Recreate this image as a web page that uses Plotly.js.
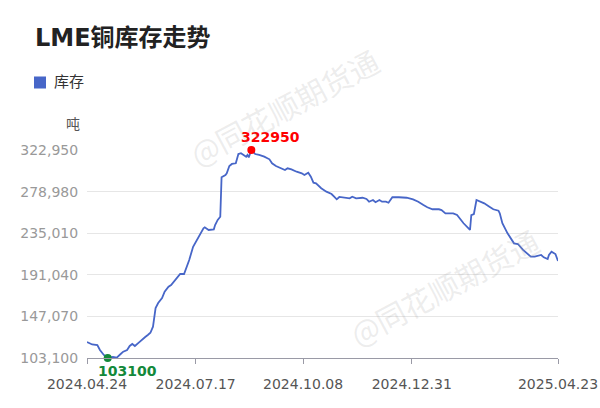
<!DOCTYPE html>
<html>
<head>
<meta charset="utf-8">
<script src="https://cdn.plot.ly/plotly-3.0.1.min.js"></script>
<style>
html,body{margin:0;padding:0;background:#fff;}
#chart{width:600px;height:408px;}
</style>
</head>
<body>
<div id="chart"></div>
<script>
const dates = [
 '2024-04-24','2024-04-28','2024-05-02','2024-05-04','2024-05-07','2024-05-10','2024-05-14','2024-05-17','2024-05-20','2024-05-22',
 '2024-05-25','2024-05-27','2024-05-29','2024-05-31','2024-06-03','2024-06-05','2024-06-08','2024-06-10','2024-06-12','2024-06-14',
 '2024-06-16','2024-06-18','2024-06-21','2024-06-23','2024-06-26','2024-06-28','2024-07-01','2024-07-03','2024-07-05','2024-07-08',
 '2024-07-10','2024-07-12','2024-07-15','2024-07-18','2024-07-20','2024-07-23','2024-07-24','2024-07-27','2024-07-31','2024-08-01',
 '2024-08-03','2024-08-05','2024-08-06','2024-08-09','2024-08-10','2024-08-12','2024-08-14','2024-08-17','2024-08-19','2024-08-21',
 '2024-08-23','2024-08-25','2024-08-26','2024-08-27','2024-08-29','2024-09-01','2024-09-04','2024-09-08','2024-09-12','2024-09-14',
 '2024-09-17','2024-09-21','2024-09-24','2024-09-26','2024-09-29','2024-10-03','2024-10-07','2024-10-09','2024-10-12','2024-10-14',
 '2024-10-16','2024-10-18','2024-10-22','2024-10-26','2024-10-30','2024-11-01','2024-11-03','2024-11-05','2024-11-09','2024-11-13',
 '2024-11-15','2024-11-18','2024-11-23','2024-11-26','2024-11-28','2024-12-01','2024-12-03','2024-12-06','2024-12-08','2024-12-11',
 '2024-12-13','2024-12-16','2024-12-21','2024-12-27','2025-01-01','2025-01-05','2025-01-09','2025-01-12','2025-01-16','2025-01-21',
 '2025-01-23','2025-01-26','2025-02-01','2025-02-04','2025-02-09','2025-02-14','2025-02-15','2025-02-17','2025-02-19','2025-02-23',
 '2025-02-25','2025-03-01','2025-03-04','2025-03-08','2025-03-09','2025-03-11','2025-03-15','2025-03-20','2025-03-23','2025-03-27',
 '2025-03-31','2025-04-02','2025-04-05','2025-04-07','2025-04-10','2025-04-12','2025-04-15','2025-04-16','2025-04-18','2025-04-21',
 '2025-04-23'
];
const stock = [
 120000,117400,116800,111600,106300,103100,104200,103500,107300,109800,
 111600,115800,117900,115800,119300,122100,125300,127400,129800,136200,
 155900,161200,166500,173200,178500,180300,185500,189000,191900,191900,
 199600,206700,220700,227800,233800,240200,241200,238400,239100,243700,
 249000,252400,294100,296500,298300,306000,308200,308900,318700,319500,
 317700,315900,317700,315200,322950,318700,317700,315900,313100,308900,
 306000,303600,301800,303600,302500,300000,298300,296500,299000,294700,
 288400,287700,282500,278900,276400,273600,270800,273300,272500,271900,
 273600,271900,272500,271200,268300,270100,267700,270100,268300,268300,
 267200,273000,273000,272500,270800,268300,264800,262400,260300,260300,
 259500,256000,256000,254200,245500,238400,254200,255300,270100,268300,
 266600,263000,260300,258800,256000,245500,234900,224300,223600,217300,
 212000,210200,210200,210900,212000,209500,207700,212000,215500,213000,
 205600
];
const seriesName = '库存';
const unitLabel = '吨';
const titleText = 'LME铜库存走势';
const xTickVals = ['2024-04-24','2024-07-17','2024-10-08','2024-12-31','2025-04-23'];
const xTickText = ['2024.04.24','2024.07.17','2024.10.08','2024.12.31','2025.04.23'];
const yTickText = ['103,100','147,070','191,040','235,010','278,980','322,950'];
const watermark = '@同花顺期货通';

const yTickVals = yTickText.map(s => Number(s.replace(/,/g,'')));
let iMax = 0, iMin = 0;
stock.forEach((v,i)=>{ if(v>stock[iMax]) iMax=i; if(v<stock[iMin]) iMin=i; });

const FONT = '"DejaVu Sans", "Noto Sans CJK SC", sans-serif';
const LINE = '#4766c8';
const RED = '#ff0000';
const GREEN = '#13893a';

const traces = [
 {x: dates, y: stock, type:'scatter', mode:'lines', name: seriesName,
  line:{color:LINE, width:1.8}, cliponaxis:false, hoverinfo:'x+y', showlegend:false},
 {x:[dates[iMax]], y:[stock[iMax]], type:'scatter', mode:'markers',
  marker:{color:RED, size:8}, cliponaxis:false, showlegend:false},
 {x:[dates[iMin]], y:[stock[iMin]], type:'scatter', mode:'markers',
  marker:{color:GREEN, size:8}, cliponaxis:false, showlegend:false}
];

const layout = {
 width:600, height:408,
 margin:{l:87, r:42, t:150, b:50},
 paper_bgcolor:'#fff', plot_bgcolor:'#fff',
 font:{family:FONT},
 showlegend:false,
 title:{text:'<b>'+titleText+'</b>', x:35/600, xanchor:'left', xref:'container',
        y:1-38/408, yanchor:'middle', yref:'container',
        font:{size:24, color:'#222', family:FONT}},
 xaxis:{type:'date', range:[xTickVals[0], xTickVals[xTickVals.length-1]],
        tickmode:'array', tickvals:xTickVals, ticktext:xTickText,
        showgrid:false, zeroline:false, showline:true, linecolor:'#9a9aa6', linewidth:1,
        ticks:'outside', ticklen:5, tickcolor:'#9a9aa6', ticklabelstandoff:8,
        tickfont:{size:14, color:'#555', family:FONT}, fixedrange:true},
 yaxis:{range:[yTickVals[0], yTickVals[yTickVals.length-1]],
        tickmode:'array', tickvals:yTickVals, ticktext:yTickText,
        showgrid:true, gridcolor:'#e6e6e6', gridwidth:1, zeroline:false, showline:false,
        ticks:'outside', ticklen:5, tickcolor:'rgba(0,0,0,0)',
        tickfont:{size:14, color:'#999', family:FONT}, fixedrange:true},
 shapes:[
  {type:'rect', xref:'paper', yref:'paper', x0:(35-87)/471, x1:(45-87)/471,
   y0:(358-87.5)/208, y1:(358-77.5)/208, fillcolor:LINE,
   line:{color:LINE, width:2}}
 ],
 annotations:[
  {text:seriesName, xref:'paper', yref:'paper', x:(52-87)/471, y:(358-82)/208,
   xanchor:'left', yanchor:'middle', showarrow:false, font:{size:15, color:'#333', family:FONT}},
  {text:unitLabel, xref:'paper', yref:'paper', x:(73-87)/471, y:(358-124)/208,
   xanchor:'center', yanchor:'middle', showarrow:false, font:{size:14, color:'#555', family:FONT}},
  {text:'<b>'+stock[iMax]+'</b>', x:dates[iMax], y:stock[iMax], xref:'x', yref:'y',
   showarrow:false, xshift:19, yshift:13, xanchor:'center', yanchor:'middle',
   font:{size:14, color:RED, family:FONT}},
  {text:'<b>'+stock[iMin]+'</b>', x:dates[iMin], y:stock[iMin], xref:'x', yref:'y',
   showarrow:false, xshift:20, yshift:-13, xanchor:'center', yanchor:'middle',
   font:{size:14, color:GREEN, family:FONT}},
  {text:watermark, xref:'paper', yref:'paper', x:(284-87)/471, y:(358-107)/208,
   showarrow:false, textangle:-28, xanchor:'center', yanchor:'middle',
   font:{size:30, color:'rgba(160,160,160,0.2)', family:'"Noto Sans CJK SC", sans-serif'}},
  {text:watermark, xref:'paper', yref:'paper', x:(444-87)/471, y:(358-287)/208,
   showarrow:false, textangle:-28, xanchor:'center', yanchor:'middle',
   font:{size:30, color:'rgba(160,160,160,0.2)', family:'"Noto Sans CJK SC", sans-serif'}}
 ]
};

Plotly.newPlot('chart', traces, layout, {displayModeBar:false, staticPlot:true});
</script>
</body>
</html>
